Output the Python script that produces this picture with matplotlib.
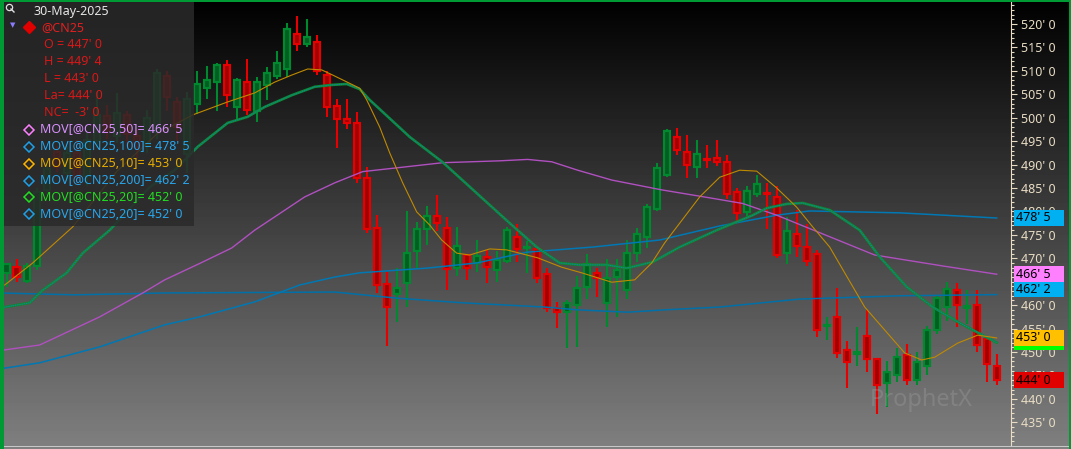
import numpy as np
import matplotlib
matplotlib.use("Agg")
import matplotlib.pyplot as plt
import matplotlib.transforms as mtransforms
from matplotlib.patches import Rectangle
from matplotlib.lines import Line2D
from matplotlib.ticker import FixedLocator, FuncFormatter

W, H = 1071, 449

# daily OHLC for @CN25 (oldest first, last bar = 30-May-2025)
opens = [466.9, 468.2, 465.2, 468.4, 484.6, 492.7, 488.2, 492.5, 487.5, 495.0,
         500.4, 496.0, 500.5, 496.0, 494.0, 497.0, 508.9, 503.4, 492.3, 502.9,
         506.3, 507.6, 511.2, 502.3, 507.6, 501.4, 507.0, 508.9, 510.4, 517.9,
         515.7, 516.2, 509.1, 502.5, 499.7, 498.8, 487.1, 476.4, 464.5, 462.4,
         464.7, 471.6, 476.2, 479.0, 476.5, 467.9, 470.6, 468.9, 470.2, 467.4,
         469.5, 474.6, 472.2, 471.9, 466.6, 459.3, 458.5, 460.0, 463.9, 466.8,
         460.5, 466.1, 463.2, 471.1, 474.6, 480.5, 487.8, 495.9, 492.7, 489.4,
         491.1, 491.5, 490.5, 484.1, 479.8, 483.7, 484.0, 483.1, 471.1, 475.2,
         472.5, 470.9, 455.5, 457.4, 450.4, 449.5, 453.4, 448.5, 443.3, 445.2,
         449.3, 444.0, 447.1, 454.8, 459.7, 463.2, 459.3, 460.0, 452.7, 447.0]
highs = [469.0, 469.8, 469.0, 485.0, 490.5, 494.0, 494.0, 495.2, 497.0, 505.5,
         502.7, 505.3, 501.5, 497.5, 501.6, 510.5, 510.0, 504.5, 505.5, 510.0,
         511.0, 511.7, 512.3, 508.5, 512.5, 508.7, 510.8, 514.3, 520.2, 521.7,
         521.0, 517.7, 510.0, 504.0, 504.0, 501.3, 489.4, 479.2, 467.0, 467.9,
         480.1, 477.8, 481.2, 483.5, 478.8, 476.7, 470.9, 473.9, 471.8, 471.6,
         476.7, 477.3, 473.7, 471.9, 467.9, 460.7, 461.1, 466.3, 470.9, 467.9,
         469.8, 469.8, 473.9, 476.4, 481.6, 490.3, 497.5, 497.7, 496.3, 495.2,
         494.2, 495.2, 492.0, 484.9, 485.4, 487.8, 486.0, 485.4, 478.8, 480.3,
         477.3, 471.7, 457.5, 463.6, 452.4, 455.3, 458.9, 448.7, 448.1, 450.9,
         451.7, 450.0, 455.6, 462.2, 465.0, 464.8, 463.2, 463.2, 453.4, 449.5]
lows = [463.9, 464.9, 464.7, 467.5, 483.5, 488.5, 486.5, 486.0, 485.5, 493.5,
        495.5, 494.5, 494.0, 491.5, 492.5, 495.5, 501.5, 495.0, 488.2, 500.8,
        504.0, 501.4, 502.3, 499.7, 500.6, 499.1, 503.8, 508.3, 508.7, 514.2,
        515.1, 509.1, 500.2, 493.6, 497.5, 486.0, 475.3, 462.5, 451.3, 456.3,
        459.7, 467.7, 472.8, 475.9, 463.3, 466.3, 465.4, 467.1, 464.7, 465.0,
        469.0, 469.3, 466.9, 464.8, 458.6, 455.2, 450.8, 451.0, 461.3, 461.7,
        455.4, 457.4, 461.3, 469.3, 472.3, 480.0, 487.4, 492.0, 487.1, 487.1,
        489.2, 489.6, 482.6, 477.5, 479.0, 483.1, 476.3, 470.0, 468.7, 470.2,
        468.4, 453.3, 452.6, 448.7, 442.4, 447.0, 445.8, 436.8, 438.3, 443.7,
        442.9, 443.0, 445.0, 453.8, 456.7, 455.3, 456.0, 450.1, 443.7, 443.0]
closes = [468.8, 466.1, 468.4, 484.1, 489.0, 489.5, 492.5, 487.4, 495.2, 500.6,
          497.4, 501.0, 496.5, 493.8, 500.0, 509.5, 504.4, 498.0, 504.0, 507.2,
          508.0, 511.2, 504.8, 508.0, 501.6, 507.6, 509.5, 511.7, 518.9, 515.7,
          517.2, 510.0, 502.3, 499.7, 498.8, 487.1, 476.3, 464.3, 459.7, 463.6,
          471.1, 476.3, 479.0, 477.5, 467.7, 472.6, 467.9, 470.5, 468.2, 469.6,
          476.0, 472.0, 472.5, 465.7, 459.3, 458.5, 460.4, 463.6, 468.8, 465.7,
          465.9, 467.6, 471.1, 475.2, 480.9, 489.2, 497.2, 493.1, 489.9, 492.2,
          490.9, 490.6, 483.7, 479.6, 484.4, 485.8, 483.8, 470.7, 475.9, 472.7,
          469.5, 454.7, 455.7, 449.7, 447.8, 450.0, 448.5, 442.9, 445.8, 448.9,
          444.0, 447.9, 454.8, 461.5, 463.4, 460.0, 459.9, 451.5, 447.4, 444.0]

# moving averages, read at bar positions along each line
ma10_x = [-0.2, 2.6, 6.6, 11.0, 15.0, 18.6, 22.0, 24.8, 26.8, 28.5, 30.1, 31.5, 32.6,
          35.3, 36.0, 37.3, 38.3, 39.6, 41.0, 42.3, 43.5, 45.0, 46.3, 48.3, 50.0,
          53.1, 55.5, 57.5, 60.5, 62.8, 64.5, 65.8, 67.3, 69.3, 71.3, 73.3, 75.0,
          77.0, 79.0, 80.6, 82.3, 83.8, 85.8, 87.8, 89.8, 91.5, 92.8, 95.1, 97.1, 99.0]
ma10_y = [464.3, 469.0, 476.7, 488.5, 496.5, 500.6, 503.3, 505.3, 507.6, 509.1, 510.4,
          510.2, 509.1, 506.3, 503.8, 498.0, 492.5, 486.1, 479.9, 477.1, 473.9, 471.1,
          470.7, 472.0, 471.8, 470.1, 468.1, 466.9, 464.9, 465.4, 469.0, 473.3, 477.5,
          483.1, 487.3, 488.8, 488.6, 485.0, 480.9, 476.7, 472.4, 466.9, 459.6, 454.7,
          449.8, 448.3, 448.9, 451.9, 453.6, 453.0]
ma20_x = [-0.7, 2.3, 3.6, 6.0, 7.6, 10.3, 14.3, 16.8, 19.1, 22.1, 24.1, 25.8, 28.5,
          30.8, 32.5, 34.0, 35.3, 36.3, 40.3, 43.6, 47.0, 50.3, 53.0, 55.3, 57.3,
          60.0, 62.0, 64.6, 67.3, 71.0, 74.6, 76.0, 78.0, 79.6, 82.3, 85.3, 87.3,
          90.0, 92.6, 95.3, 99.0]
ma20_y = [459.4, 460.5, 463.2, 466.9, 471.1, 476.0, 485.2, 488.8, 493.8, 498.9, 500.2,
          502.3, 504.8, 506.6, 507.0, 507.2, 506.1, 503.8, 495.9, 490.5, 483.9, 477.5,
          472.4, 469.0, 468.6, 468.6, 467.9, 469.2, 472.4, 476.0, 479.2, 480.7, 481.6,
          481.8, 480.3, 476.0, 470.3, 463.9, 459.6, 456.2, 452.0]
ma50_x = [-0.7, 3.3, 9.3, 13.6, 15.8, 19.3, 22.5, 24.8, 29.8, 32.8, 35.6, 39.0, 43.6,
          49.3, 52.1, 54.5, 57.1, 60.5, 65.5, 70.3, 73.6, 77.0, 82.3, 86.8, 93.5, 99.0]
ma50_y = [450.3, 451.5, 457.5, 462.6, 465.4, 468.9, 472.2, 476.0, 483.1, 486.1, 488.5,
          489.3, 490.4, 490.8, 491.1, 490.6, 488.8, 486.7, 484.6, 482.9, 481.7, 479.2,
          474.6, 470.7, 468.4, 466.6]
ma100_x = [-0.7, 3.3, 9.3, 15.8, 19.3, 24.8, 29.3, 32.8, 35.3, 42.0, 47.0, 52.0, 58.6,
           65.3, 71.3, 77.0, 80.3, 89.3, 99.0]
ma100_y = [446.4, 447.7, 451.1, 455.8, 457.5, 460.7, 464.3, 466.0, 466.9, 467.9, 469.0,
           471.3, 472.4, 473.9, 476.9, 479.2, 480.1, 479.7, 478.6]
ma200_x = [-0.7, 6.8, 15.8, 32.8, 39.0, 45.6, 53.8, 57.1, 62.1, 65.8, 71.3, 79.3, 89.3, 99.0]
ma200_y = [462.6, 462.2, 462.6, 462.8, 461.5, 460.5, 459.6, 459.0, 458.5, 459.0, 459.6,
           461.3, 462.0, 462.25]

date_label = "30-May-2025"
symbol = "@CN25"
quote_lines = ["O = 447' 0", "H = 449' 4", "L = 443' 0", "La= 444' 0", "NC=  -3' 0"]
study_labels = ["MOV[@CN25,50]= 466' 5", "MOV[@CN25,100]= 478' 5", "MOV[@CN25,10]= 453' 0",
                "MOV[@CN25,200]= 462' 2", "MOV[@CN25,20]= 452' 0", "MOV[@CN25,20]= 452' 0"]
study_colors = ["#ff80ff", "#1ea0e8", "#ffb400", "#1ea0e8", "#20e020", "#1ea0e8"]
study_text_colors = ["#d890ff", "#28a6ec", "#e6ac00", "#28a6ec", "#22dd22", "#28a6ec"]

# last-value flags on the price scale
flag_vals = [478.625, 466.625, 462.25, 452.0, 453.0, 444.0]
flag_text = ["478' 5", "466' 5", "462' 2", "452' 0", "453' 0", "444' 0"]
flag_colors = ["#00b0f0", "#ff80ff", "#00b0f0", "#00ff00", "#ffc000", "#e00000"]

plt.rcParams['font.family'] = ['Noto Sans', 'DejaVu Sans']

fig = plt.figure(figsize=(W / 100, H / 100), dpi=100)

# background gradient (black at top to mid grey at bottom)
bg = fig.add_axes([0, 0, 1, 1], zorder=-10)
grad = np.linspace(0.0, 0.5, H)[:, None]
bg.imshow(grad, cmap='gray', vmin=0, vmax=1, aspect='auto', extent=[0, 1, 0, 1])
bg.axis('off')

ax_left, ax_right = 3, 1011
ax = fig.add_axes([ax_left / W, 4 / H, (ax_right - ax_left) / W, 445 / H])
ax.set_facecolor('none')
px_per_pt = 4.686
ax.set_ylim(520 - (445 - 24) / px_per_pt, 520 + 24 / px_per_pt)
ax.set_xlim((ax_left - 6.7) / 10, (ax_right - 6.7) / 10)

n = len(opens)
idx = np.arange(n)
o = np.array(opens); h = np.array(highs); l = np.array(lows); c = np.array(closes)
up = c >= o

edge_up, fill_up = '#00892f', '#005e22'
edge_dn, fill_dn = '#e80000', '#a00000'

ax.vlines(idx[up], l[up], h[up], color=edge_up, lw=1.5, zorder=2)
ax.vlines(idx[~up], l[~up], h[~up], color=edge_dn, lw=1.5, zorder=2)
body_lo = np.minimum(o, c)
body_h = np.maximum(np.abs(c - o), 0.05)
ax.bar(idx[up], body_h[up], bottom=body_lo[up], width=0.64, color=fill_up,
       edgecolor=edge_up, linewidth=1.55, zorder=3)
ax.bar(idx[~up], body_h[~up], bottom=body_lo[~up], width=0.64, color=fill_dn,
       edgecolor=edge_dn, linewidth=1.55, zorder=3)

# moving averages
ax.plot(ma200_x, ma200_y, color='#0070a8', lw=1.1, zorder=4)
ax.plot(ma100_x, ma100_y, color='#0078b4', lw=1.1, zorder=4)
ax.plot(ma50_x, ma50_y, color='#b050c0', lw=1.0, zorder=4)
ax.plot(ma20_x, ma20_y, color='#0b8c2c', lw=1.9, zorder=5)
ax.plot(ma20_x, ma20_y, color='#1a7cbc', lw=0.8, ls=(0, (1, 1)), zorder=5)
ax.plot(ma10_x, ma10_y, color='#c08a00', lw=0.8, zorder=6)

# price scale on the right
cream = '#e8dcc4'
for s in ['top', 'left', 'bottom']:
    ax.spines[s].set_visible(False)
ax.spines['right'].set_color(cream)
ax.spines['right'].set_linewidth(0.8)
ax.xaxis.set_visible(False)
ax.yaxis.tick_right()
ax.yaxis.set_major_locator(FixedLocator(list(range(435, 521, 5))))
ax.yaxis.set_minor_locator(FixedLocator(list(range(431, 526))))
ax.yaxis.set_major_formatter(FuncFormatter(lambda v, p: f"{int(round(v))}' 0"))
ax.tick_params(axis='y', which='major', colors=cream, length=4.5, width=0.8,
               labelsize=9, pad=3, labelcolor=cream)
ax.tick_params(axis='y', which='minor', colors=cream, length=2.2, width=0.8)

# value flags, later ones on top of earlier ones
blend = mtransforms.blended_transform_factory(fig.transFigure, ax.transData)
flag_h = 15.5 / px_per_pt
for i, (v, t, col) in enumerate(zip(flag_vals, flag_text, flag_colors)):
    yv = v + (5.0 / px_per_pt if t == "462' 2" else 0)
    z = 2 + 0.1 * i
    fig.patches.append(Rectangle((1014 / W, yv - flag_h / 2), 50 / W, flag_h,
                                 transform=blend, facecolor=col, edgecolor='none', zorder=z))
    fig.text(1016 / W, yv, t, transform=blend, fontsize=9, color='black',
             va='center', ha='left', zorder=z + 0.05)

# legend panel
fig.patches.append(Rectangle((3 / W, 1 - 226 / H), 191 / W, 226 / H, transform=fig.transFigure,
                             facecolor='#2a2a2a', alpha=0.86, edgecolor='none', zorder=1))


def fy(y):
    return 1 - y / H


# magnifier icon
fig.add_artist(Line2D([9 / W], [fy(7)], marker='o', markersize=4.5, mfc='none',
                      mec='#e0e0e0', mew=0.9, transform=fig.transFigure, zorder=3))
fig.add_artist(Line2D([11 / W, 14 / W], [fy(9), fy(12)], color='#e0e0e0', lw=1.0,
                      transform=fig.transFigure, zorder=3))
fig.text(34 / W, fy(11), date_label, fontsize=9, color='#e6e6e6', va='center', zorder=3)
fig.text(13 / W, fy(25), "\u25bc", fontsize=5, color='#8a7cff', va='center', ha='center',
         family='DejaVu Sans', zorder=3)
fig.add_artist(Line2D([29 / W], [fy(27)], marker='D', markersize=6.5, color='#e00000',
                      mec='#e00000', transform=fig.transFigure, zorder=3))
fig.text(41 / W, fy(27.5), symbol, fontsize=9, color='#e02020', va='center', zorder=3)
for i, t in enumerate(quote_lines):
    fig.text(44 / W, fy(44.5 + 17 * i), t, fontsize=9, color='#d81818', va='center', zorder=3)
for i, (t, mc, tc) in enumerate(zip(study_labels, study_colors, study_text_colors)):
    y = 129.5 + 17 * i
    fig.add_artist(Line2D([29 / W], [fy(y)], marker='D', markersize=5.5, mfc='none',
                          mec=mc, mew=1.1, transform=fig.transFigure, zorder=3))
    fig.text(40 / W, fy(y), t, fontsize=9, color=tc, va='center', zorder=3)

# watermark
fig.text(921 / W, fy(400), "ProphetX", fontsize=17, weight='bold', color='#a8a8a8',
         alpha=0.3, ha='center', va='center', zorder=1)

# frame
green = '#009a34'
fig.patches.append(Rectangle((0, 0), 3.5 / W, 1, transform=fig.transFigure,
                             facecolor=green, edgecolor='none', zorder=5))
fig.patches.append(Rectangle((0, 1 - 2 / H), 1, 2 / H, transform=fig.transFigure,
                             facecolor=green, edgecolor='none', zorder=5))
fig.patches.append(Rectangle((1 - 2 / W, 0), 2 / W, 1, transform=fig.transFigure,
                             facecolor=green, edgecolor='none', zorder=5))
fig.patches.append(Rectangle((3.5 / W, 2 / H), 1 - 5.5 / W, 1.2 / H, transform=fig.transFigure,
                             facecolor='#c8c8c8', edgecolor='none', zorder=5))

fig.savefig('out.png', dpi=100)
